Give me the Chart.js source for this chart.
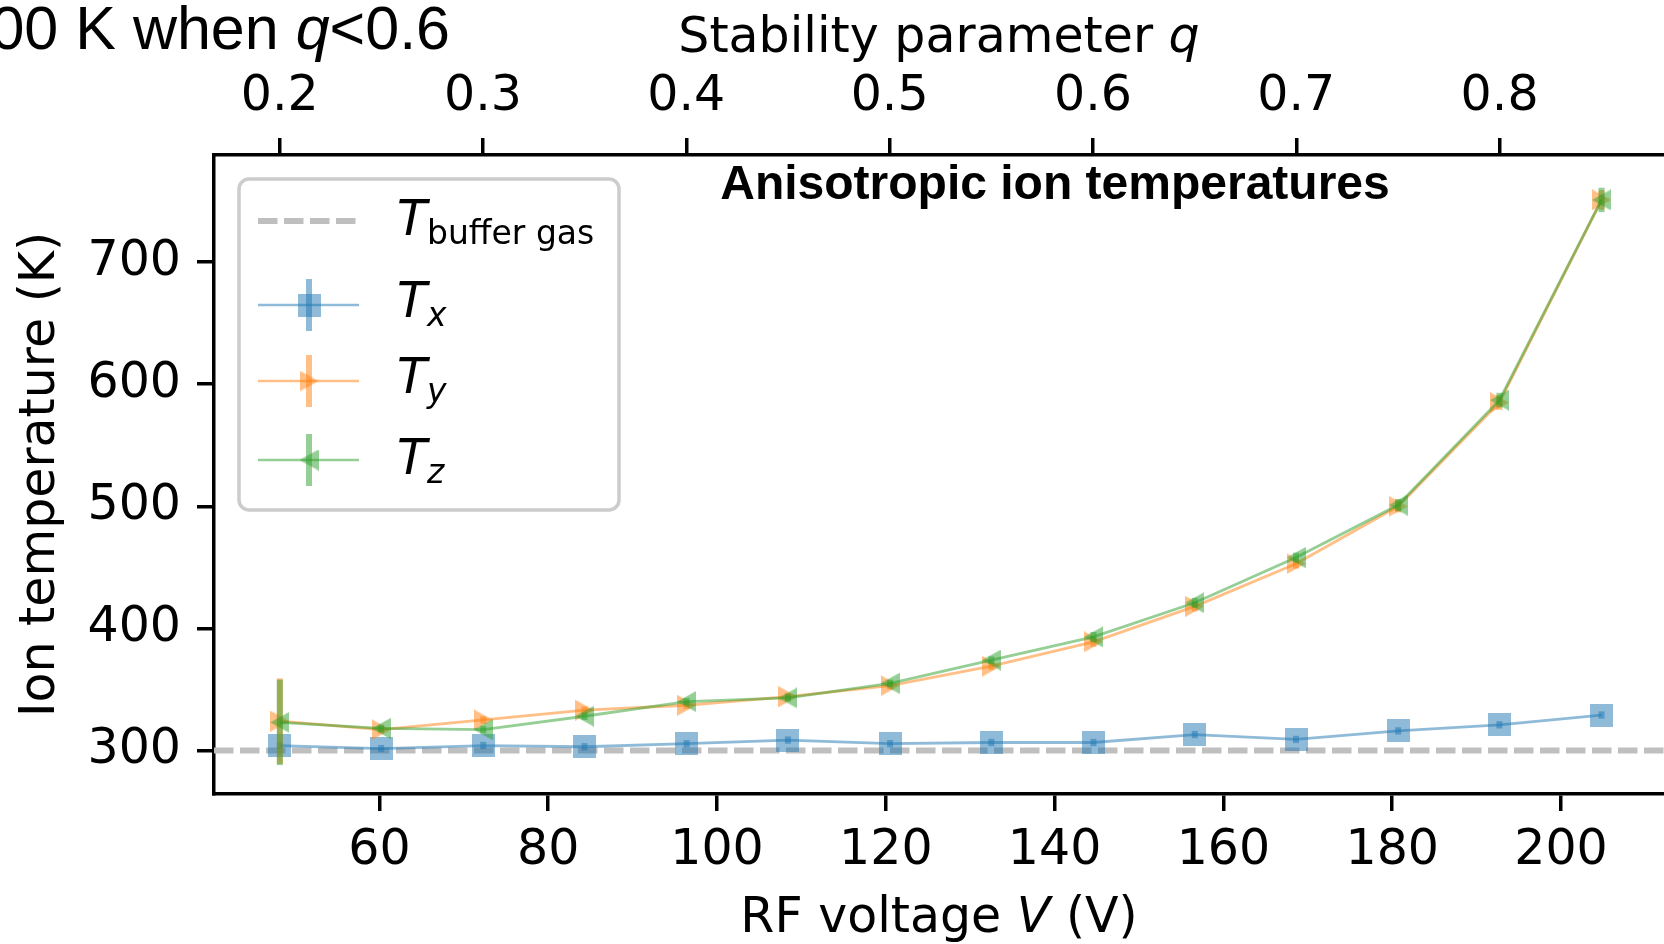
<!DOCTYPE html>
<html>
<head>
<meta charset="utf-8">
<script src="https://cdn.jsdelivr.net/npm/chart.js@4.4.1/dist/chart.umd.min.js"></script>
<style>
    html, body { margin: 0; padding: 0; background: #fff; overflow: hidden; }
    #grafico { display: block; }
</style>
</head>
<body>
<canvas id="grafico" width="1664" height="944"></canvas>
<script>
// tensão RF de cada medida (V)
const tensoes = [48.2, 60.2, 72.3, 84.3, 96.4, 108.4, 120.5, 132.5, 144.6, 156.6, 168.6, 180.7, 192.7, 204.8];

// temperaturas dos íons (K) e barras de erro
const tempX = [304, 301.5, 304, 303, 305.5, 308.5, 305.5, 306.5, 306.5, 313, 309, 316, 321, 329];
const tempY = [324, 317, 325, 333, 337, 344, 353, 369, 389, 418, 453, 500, 585, 751];
const tempZ = [323, 318, 317, 328, 340, 343, 355, 374, 393, 421, 458, 501, 587, 751];
const erroX = [3, 3, 3, 3, 3, 3, 3, 3, 3, 3, 3, 3, 3, 3];
const erroY = [35, 3, 3, 3, 3, 3, 3, 3, 4, 4, 4, 5, 6, 8];
const erroZ = [35, 3, 3, 3, 3, 3, 3, 3, 4, 4, 4, 5, 6, 10];
const tempGas = 300;

// eixos
const ticksV = [60, 80, 100, 120, 140, 160, 180, 200];
const ticksQ = [0.2, 0.3, 0.4, 0.5, 0.6, 0.7, 0.8];
const ticksT = [300, 400, 500, 600, 700];
const vMin = 40.4, vMax = 212.2;
const tMin = 264.3, tMax = 787.8;
const voltsPorQ = 240.9;

const azul = 'rgba(31,119,180,0.5)';
const laranja = 'rgba(255,127,14,0.5)';
const verde = 'rgba(44,160,44,0.5)';
const cinza = '#bfbfbf';
const fonte = '"DejaVu Sans"';

const criaMarcador = (forma, cor, w, h) => {
    const c = document.createElement('canvas');
    c.width = w;
    c.height = h;
    const g = c.getContext('2d');
    g.fillStyle = cor;
    g.beginPath();
    if (forma === 'quadrado') {
        g.rect(0, 0, w, h);
    } else if (forma === 'direita') {
        g.moveTo(w, h / 2);
        g.lineTo(0, 0);
        g.lineTo(0, h);
    } else {
        g.moveTo(0, h / 2);
        g.lineTo(w, 0);
        g.lineTo(w, h);
    }
    g.closePath();
    g.fill();
    return c;
};

const marcadorX = criaMarcador('quadrado', azul, 23, 23);
const marcadorY = criaMarcador('direita', laranja, 19, 21);
const marcadorZ = criaMarcador('esquerda', verde, 19, 21);

const pontos = (temps) => tensoes.map((v, i) => ({ x: v, y: temps[i] }));

const escreve = (ctx, partes, x, y, alinhamento) => {
    let largura = 0;
    partes.forEach(p => { ctx.font = p.fonte; largura += ctx.measureText(p.texto).width; });
    let cx = x;
    if (alinhamento === 'center') cx = x - largura / 2;
    if (alinhamento === 'right') cx = x - largura;
    ctx.textAlign = 'left';
    ctx.textBaseline = 'alphabetic';
    partes.forEach(p => {
        ctx.font = p.fonte;
        ctx.fillText(p.texto, cx, y + (p.dy || 0));
        cx += ctx.measureText(p.texto).width;
    });
};

const normal = (t) => ({ texto: t, fonte: `49px ${fonte}` });
const italico = (t) => ({ texto: t, fonte: `italic 49px ${fonte}` });
const sub = (t, it) => ({ texto: t, fonte: `${it ? 'italic ' : ''}33px ${fonte}`, dy: 8.5 });

const extras = {
    id: 'extras',
    afterDatasetDraw(chart, args) {
        const ds = chart.data.datasets[args.index];
        if (!ds.erros) return;
        const { ctx } = chart;
        const x = chart.scales.x;
        const y = chart.scales.y;
        ctx.save();
        ctx.strokeStyle = ds.borderColor;
        ctx.lineWidth = 6;
        ds.data.forEach((p, i) => {
            const px = x.getPixelForValue(p.x);
            ctx.beginPath();
            ctx.moveTo(px, y.getPixelForValue(p.y - ds.erros[i]));
            ctx.lineTo(px, y.getPixelForValue(p.y + ds.erros[i]));
            ctx.stroke();
        });
        ctx.restore();
    },
    afterDraw(chart) {
        const { ctx } = chart;
        ctx.save();
        ctx.fillStyle = '#000';

        // títulos dos eixos x
        escreve(ctx, [normal('RF voltage '), italico('V'), normal(' (V)')], 939, 932, 'center');
        escreve(ctx, [normal('Stability parameter '), italico('q')], 939, 52, 'center');

        // título do gráfico
        ctx.font = 'bold 48px "Liberation Sans"';
        ctx.textAlign = 'center';
        ctx.fillText('Anisotropic ion temperatures', 1055, 199);

        // pedaço do título da figura
        escreve(ctx, [
            { texto: '00 K when ', fonte: '61px "Liberation Sans"' },
            { texto: 'q', fonte: 'italic 61px "Liberation Sans"' },
            { texto: '<0.6', fonte: '61px "Liberation Sans"' }
        ], 450, 49, 'right');

        // legenda
        ctx.beginPath();
        ctx.roundRect(239, 179, 380, 331, 10);
        ctx.fillStyle = 'rgba(255,255,255,0.8)';
        ctx.fill();
        ctx.strokeStyle = '#cccccc';
        ctx.lineWidth = 3.5;
        ctx.stroke();

        ctx.strokeStyle = cinza;
        ctx.lineWidth = 6;
        ctx.setLineDash([19.5, 6.5]);
        ctx.beginPath();
        ctx.moveTo(258, 221);
        ctx.lineTo(359, 221);
        ctx.stroke();
        ctx.setLineDash([]);

        const itens = [
            { y: 305, cor: azul, marcador: marcadorX },
            { y: 381, cor: laranja, marcador: marcadorY },
            { y: 460, cor: verde, marcador: marcadorZ }
        ];
        itens.forEach(item => {
            ctx.strokeStyle = item.cor;
            ctx.lineWidth = 2.5;
            ctx.beginPath();
            ctx.moveTo(258, item.y);
            ctx.lineTo(359, item.y);
            ctx.stroke();
            ctx.lineWidth = 6;
            ctx.beginPath();
            ctx.moveTo(309, item.y - 26);
            ctx.lineTo(309, item.y + 26);
            ctx.stroke();
            ctx.drawImage(item.marcador, 309 - item.marcador.width / 2, item.y - item.marcador.height / 2);
        });

        ctx.fillStyle = '#000';
        escreve(ctx, [italico('T'), sub('buffer gas')], 397, 235, 'left');
        escreve(ctx, [italico('T'), sub('x', true)], 397, 317, 'left');
        escreve(ctx, [italico('T'), sub('y', true)], 397, 393, 'left');
        escreve(ctx, [italico('T'), sub('z', true)], 397, 474, 'left');
        ctx.restore();
    }
};

const eixo = (extra) => Object.assign({
    type: 'linear',
    grid: { drawOnChartArea: false, drawTicks: true, tickLength: 17, tickWidth: 3.5, tickColor: '#000', color: '#000', lineWidth: 3.5 },
    border: { display: true, color: '#000', width: 3.5 }
}, extra);

const grafico = new Chart(document.getElementById('grafico'), {
    type: 'line',
    data: {
        datasets: [
            {
                label: 'T buffer gas',
                data: [{ x: vMin, y: tempGas }, { x: vMax, y: tempGas }],
                borderColor: cinza,
                borderWidth: 6,
                borderDash: [19.5, 6.5],
                pointRadius: 0,
                order: 3
            },
            {
                label: 'Tx',
                data: pontos(tempX),
                borderColor: azul,
                borderWidth: 2.8,
                pointStyle: marcadorX,
                pointRadius: 10,
                erros: erroX,
                order: 2
            },
            {
                label: 'Ty',
                data: pontos(tempY),
                borderColor: laranja,
                borderWidth: 2.8,
                pointStyle: marcadorY,
                pointRadius: 10,
                erros: erroY,
                order: 1
            },
            {
                label: 'Tz',
                data: pontos(tempZ),
                borderColor: verde,
                borderWidth: 2.8,
                pointStyle: marcadorZ,
                pointRadius: 10,
                erros: erroZ,
                order: 0
            }
        ]
    },
    options: {
        responsive: false,
        animation: false,
        events: [],
        devicePixelRatio: 1,
        layout: { padding: 0, autoPadding: false },
        plugins: { legend: { display: false }, tooltip: { enabled: false } },
        scales: {
            x: eixo({
                position: 'bottom',
                min: vMin,
                max: vMax,
                afterBuildTicks: s => { s.ticks = ticksV.map(v => ({ value: v })); },
                afterFit: s => { s.height = 150; s.paddingLeft = 0; s.paddingRight = 0; },
                ticks: { color: '#000', font: { family: 'DejaVu Sans', size: 49 }, padding: 10.6, maxRotation: 0, callback: v => v }
            }),
            x2: eixo({
                position: 'top',
                min: vMin / voltsPorQ,
                max: vMax / voltsPorQ,
                afterBuildTicks: s => { s.ticks = ticksQ.map(v => ({ value: v })); },
                afterFit: s => { s.height = 155; s.paddingLeft = 0; s.paddingRight = 0; },
                ticks: { color: '#000', font: { family: 'DejaVu Sans', size: 49 }, padding: 11.2, maxRotation: 0, callback: v => v.toFixed(1) }
            }),
            y: eixo({
                position: 'left',
                min: tMin,
                max: tMax,
                afterBuildTicks: s => { s.ticks = ticksT.map(v => ({ value: v })); },
                afterFit: s => { s.width = 214; s.paddingTop = 0; s.paddingBottom = 0; },
                ticks: { color: '#000', font: { family: 'DejaVu Sans', size: 49 }, padding: 16, callback: v => v },
                title: { display: true, text: 'Ion temperature (K)', color: '#000', font: { family: 'DejaVu Sans', size: 49 }, padding: { top: 12, bottom: 0 } }
            })
        }
    },
    plugins: [extras]
});
</script>
</body>
</html>
